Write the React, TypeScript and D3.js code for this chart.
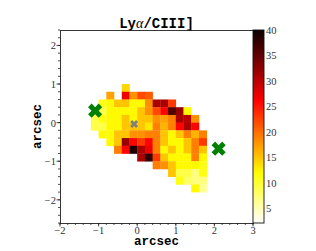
import * as d3 from 'd3';
import React from 'react';

// pixel map: rows from top (lower edge yStart) to bottom, cols from xStart, 0.2" pixels
const pixelSize = 0.2;
const xStart = -1.2;
const yStart = 0.8;
const _ = null;
const ratioMap: (number | null)[][] = [
  [_, _, _, _, 14, _, _, _, _, _, _, _, _, _, _],
  [_, _, 17, _, 27, 18, 22, 21, _, _, _, _, _, _, _],
  [_, 11, 12, 15, 15, 12, 12, 18, 31, 31, 23, _, _, _, _],
  [_, 9, 12, 12, 12, 12, 15, 18, 22, 26, 36, 32, 12, _, _],
  [9, 11, 12, 12, 15, 12, 15, 15, 18, 17, 19, 31, 30, 18, _],
  [9, 9, 12, 12, 15, 15, 15, 13, 19, 16, 19, 26, 31, 26, _],
  [_, 12, 12, 15, 15, 18, 18, 19, 19, 15, 12, 15, 19, 16, 19],
  [_, _, 12, 15, 32, 26, 23, 26, 19, 15, 12, 12, 15, 19, 23],
  [_, _, _, 19, 26, 39, 31, 27, 19, 12, 15, 12, 15, 19, 15],
  [_, _, _, _, _, _, 31, 38, 23, 15, 12, 12, 12, 19, 12],
  [_, _, _, _, _, _, _, _, 19, 18, 15, 12, 12, 12, 11],
  [_, _, _, _, _, _, _, _, _, _, 15, 9, 9, 7, 11],
  [_, _, _, _, _, _, _, _, _, _, _, 11, 8, 7, 7],
  [_, _, _, _, _, _, _, _, _, _, _, _, _, 12, 6],
];

const greenX = [-1.09, 2.11];
const greenY = [0.31, -0.675];
const greyX = [-0.08];
const greyY = [-0.035];

const xTicks = [-2, -1, 0, 1, 2, 3];
const yTicks = [-2, -1, 0, 1, 2];
const cbTicks = [5, 10, 15, 20, 25, 30, 35, 40];
const vmin = 2.1, vmax = 40;

const margin = { top: 30, left: 60 };
const width = 193, height = 193;

// matplotlib "hot_r"
const clamp = (v: number) => Math.max(0, Math.min(1, v));
function hotR(v: number) {
  const s = 1 - clamp((v - vmin) / (vmax - vmin));
  const r = s < 0.365079 ? 0.0416 + (1 - 0.0416) * s / 0.365079 : 1;
  const g = clamp((s - 0.365079) / (0.746032 - 0.365079));
  const b = clamp((s - 0.746032) / (1 - 0.746032));
  return d3.rgb(r * 255, g * 255, b * 255).formatHex();
}

const fmt = (d: number) => (d < 0 ? '\u2212' + Math.abs(d) : String(d));

export default function App() {
  const x = d3.scaleLinear().domain([-2, 3]).range([0, width]);
  const y = d3.scaleLinear().domain([-2.6, 2.4]).range([height, 0]);
  const cb = d3.scaleLinear().domain([vmin, vmax]).range([height, 0]);

  const cells: JSX.Element[] = [];
  ratioMap.forEach((row, i) => {
    row.forEach((v, j) => {
      if (v == null) return;
      const x0 = xStart + j * pixelSize;
      const y0 = yStart - i * pixelSize;
      cells.push(
        <rect key={i + '-' + j} x={x(x0)} y={y(y0 + pixelSize)}
          width={x(x0 + pixelSize) - x(x0) + 0.3} height={y(y0) - y(y0 + pixelSize) + 0.3}
          fill={hotR(v)} />
      );
    });
  });

  const minorX = d3.range(-2, 3.001, 0.2);
  const minorY = d3.range(-2.6, 2.401, 0.2);
  const cross = d3.symbol().type(d3.symbolCross);
  const serif = '"Liberation Serif", serif';
  const mono = '"Liberation Mono", "DejaVu Sans Mono", monospace';

  const stops = d3.range(0, 1.0001, 0.02);

  return (
    <svg width={316} height={251} style={{ position: 'absolute', left: 0, top: 0, background: '#fff' }}>
      <defs>
        <linearGradient id="cbar" x1="0" y1="1" x2="0" y2="0">
          {stops.map(t => <stop key={t} offset={t} stopColor={hotR(vmin + t * (vmax - vmin))} />)}
        </linearGradient>
      </defs>
      <text x={margin.left + width / 2} y={28} textAnchor="middle" fontFamily={mono} fontWeight="bold" fontSize={14}>
        Ly<tspan fontFamily={serif} fontStyle="italic" fontWeight="normal">α</tspan>/CIII]
      </text>
      <g transform={`translate(${margin.left},${margin.top})`}>
        {cells}
        {greyX.map((gx, i) => (
          <path key={'g' + i} d={cross.size(40)()!} fill="#808080"
            transform={`translate(${x(gx)},${y(greyY[i])}) rotate(45)`} />
        ))}
        {greenX.map((gx, i) => (
          <path key={'x' + i} d={cross.size(125)()!} fill="#008000"
            transform={`translate(${x(gx)},${y(greenY[i])}) rotate(45)`} />
        ))}
        {/* frame */}
        <rect x={0.5} y={0.5} width={width} height={height} fill="none" stroke="#222" strokeWidth={0.9} />
        {/* x axis */}
        {minorX.map(t => (
          <line key={'mx' + t} x1={x(t)} x2={x(t)} y1={height} y2={height + 2} stroke="#222" strokeWidth={0.8} />
        ))}
        {xTicks.map(t => (
          <g key={'x' + t}>
            <line x1={x(t)} x2={x(t)} y1={height} y2={height + 3.5} stroke="#222" strokeWidth={0.8} />
            <text x={x(t)} y={height + 10.5} textAnchor="middle" fontFamily={serif} fontSize={10.5} fill="#333">{fmt(t)}</text>
          </g>
        ))}
        {/* y axis */}
        {minorY.map(t => (
          <line key={'my' + t} x1={-2} x2={0} y1={y(t)} y2={y(t)} stroke="#222" strokeWidth={0.8} />
        ))}
        {yTicks.map(t => (
          <g key={'y' + t}>
            <line x1={-3.5} x2={0} y1={y(t)} y2={y(t)} stroke="#222" strokeWidth={0.8} />
            <text x={-4} y={y(t) + 4} textAnchor="end" fontFamily={serif} fontSize={10.5} fill="#333">{fmt(t)}</text>
          </g>
        ))}
        <text x={width / 2} y={height + 22} textAnchor="middle" fontFamily={mono} fontWeight="bold" fontSize={12.5}>arcsec</text>
        <text transform={`translate(${-19},${height / 2}) rotate(-90)`} textAnchor="middle" fontFamily={mono} fontWeight="bold" fontSize={12.5}>arcsec</text>
        {/* colorbar */}
        <g transform={`translate(${width},0)`}>
          <rect x={0} y={0} width={11} height={height} fill="url(#cbar)" stroke="#111" strokeWidth={0.9} />
          {cbTicks.map(t => (
            <text key={'c' + t} x={13} y={cb(t) + 4} fontFamily={serif} fontSize={10.5} fill="#333">{t}</text>
          ))}
        </g>
      </g>
    </svg>
  );
}
